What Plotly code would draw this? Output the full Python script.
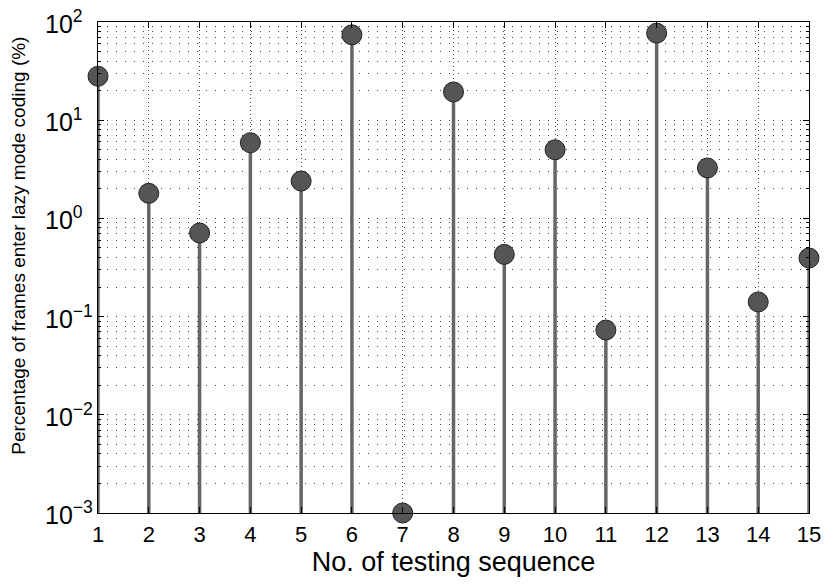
import math
import plotly.graph_objects as go

seq = list(range(1, 16))
pct = [28, 1.8, 0.71, 5.9, 2.4, 74, 0.001, 19.4, 0.43, 5.0, 0.073, 77, 3.26, 0.141, 0.395]
base = 0.001
ytick_vals = [1e-3, 1e-2, 1e-1, 1, 10, 100]
ytick_text = ["10<sup>−3</sup>", "10<sup>−2</sup>", "10<sup>−1</sup>", "10<sup>0</sup>", "10<sup>1</sup>", "10<sup>2</sup>"]
ylabel = "Percentage of frames enter lazy mode coding (%)"
xlabel = "No. of testing sequence"

FONT = "Liberation Sans, Arial, sans-serif"

minor_vals = []
for e in range(-3, 2):
    for d in range(2, 10):
        minor_vals.append(d * 10 ** e)

sx, sy = [], []
for x, y in zip(seq, pct):
    sx += [x, x, None]
    sy += [base, y, None]

fig = go.Figure()
fig.add_trace(go.Scatter(x=sx, y=sy, mode="lines", line=dict(color="#666666", width=3.5),
                         hoverinfo="skip", showlegend=False, cliponaxis=False))
fig.add_trace(go.Scatter(x=seq, y=pct, mode="markers",
                         marker=dict(size=20, color="#555555", line=dict(color="#222222", width=1)),
                         showlegend=False, cliponaxis=False))

# y tick labels, left-aligned like the original
for v, t in zip(ytick_vals, ytick_text):
    fig.add_annotation(text=t, xref="paper", yref="y", x=-0.077, y=math.log10(v),
                       xanchor="left", yanchor="middle", showarrow=False,
                       font=dict(size=25, family=FONT, color="black"))

fig.add_annotation(text=ylabel, textangle=-90, xref="paper", yref="paper",
                   x=-0.112, y=0.545, xanchor="center", yanchor="middle", showarrow=False,
                   font=dict(size=19, family=FONT, color="black"))

fig.update_layout(
    width=833, height=584,
    margin=dict(l=98, r=16, t=22, b=71),
    paper_bgcolor="white", plot_bgcolor="white",
    font=dict(family=FONT, size=22, color="black"),
    xaxis=dict(range=[1, 15], tickvals=seq, ticks="inside", ticklen=6, tickcolor="black",
               showline=True, linecolor="black", linewidth=1, mirror="ticks",
               showgrid=True, gridcolor="#444444", griddash="1px,3px", gridwidth=1,
               zeroline=False, tickfont=dict(size=22), ticklabelstandoff=2,
               title=dict(text=xlabel, font=dict(size=27), standoff=0)),
    yaxis=dict(type="log", range=[-3, 2], tickvals=ytick_vals, showticklabels=False,
               ticks="inside", ticklen=6, tickcolor="black",
               showline=True, linecolor="black", linewidth=1, mirror="ticks",
               showgrid=True, gridcolor="#444444", griddash="1px,8px", gridwidth=1,
               zeroline=False,
               minor=dict(tickvals=minor_vals, ticks="inside", ticklen=3, tickcolor="black",
                          showgrid=True, gridcolor="#444444", griddash="1px,8px", gridwidth=1)),
)

fig.write_html("out.html")
